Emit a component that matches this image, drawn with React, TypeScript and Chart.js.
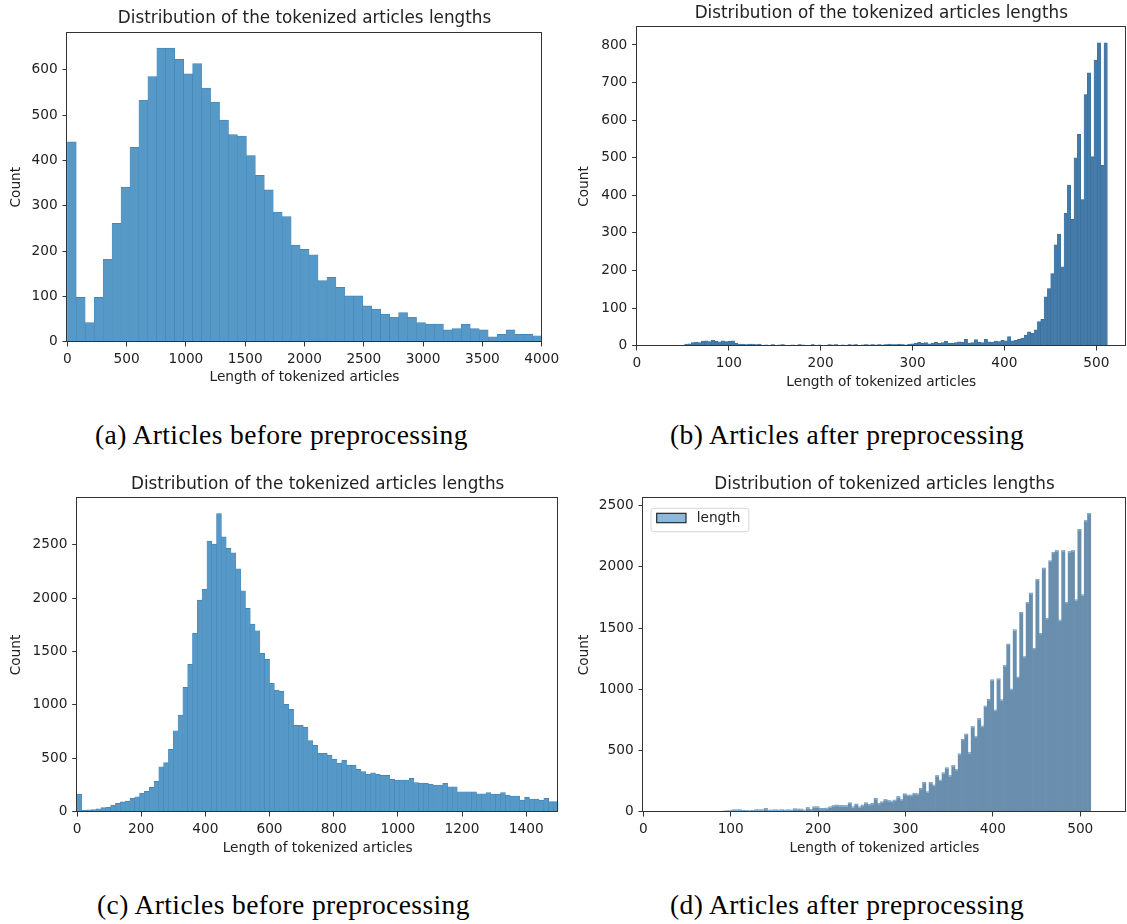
import React, { useEffect, useRef } from "react";
import { Chart, registerables } from "chart.js";

Chart.register(...registerables);

// ---------------- data ----------------
const TITLE_ABC = "Distribution of the tokenized articles lengths";
const TITLE_D = "Distribution of tokenized articles lengths";
const X_LABEL = "Length of tokenized articles";
const Y_LABEL = "Count";
const LEGEND_D = "length";
const CAPTIONS = [
  "(a) Articles before preprocessing",
  "(b) Articles after preprocessing",
  "(c) Articles before preprocessing",
  "(d) Articles after preprocessing",
];

// (a) before preprocessing
const A_BIN_START = 0;
const A_BIN_WIDTH = 75.5;
const A_COUNTS = [
  441, 98, 42, 98, 182, 261, 341, 429, 533, 585, 648, 648, 623, 591, 614, 560, 529, 489, 457, 454,
  411, 367, 335, 286, 276, 213, 204, 192, 135, 142, 120, 101, 101, 79, 72, 61, 54, 64, 54, 42,
  39, 39, 26, 29, 39, 29, 26, 11, 16, 26, 16, 16, 13,
];
const A_X_RANGE = [0, 4000];
const A_Y_MAX = 682;
const A_X_TICKS = [0, 500, 1000, 1500, 2000, 2500, 3000, 3500, 4000];
const A_Y_TICKS = [0, 100, 200, 300, 400, 500, 600];

// (b) after preprocessing
const B_BIN_START = 52;
const B_BIN_WIDTH = 3.622;
const B_COUNTS = [
  4, 5, 8, 9, 8,
  12, 13, 11, 14, 12, 10, 13, 11, 12, 13,
  6, 4, 4, 3, 4, 4, 3, 4,
  0, 2, 1, 3, 0, 2, 3, 0, 1, 2, 0, 3, 2, 0, 1, 3, 0, 2, 1, 0, 3, 2, 3, 0, 2, 1, 3, 2, 3, 0, 2, 3, 2, 3, 2,
  3, 2, 3, 4, 3, 3, 4, 3, 2, 4, 5,
  7, 9, 6, 8, 5, 7, 9, 6, 8, 12, 7, 6, 8, 10, 9, 17, 7, 8, 16, 9, 8, 17, 10, 9, 12, 11, 14, 13,
  24, 13, 14, 17, 20, 28, 37, 33, 42,
  64, 70, 130, 152, 192, 268, 297, 210, 352, 427, 336, 500, 562, 389, 668, 726, 503, 760, 806, 480, 806,
];
const B_X_RANGE = [0, 532];
const B_Y_MAX = 847;
const B_X_TICKS = [0, 100, 200, 300, 400, 500];
const B_Y_TICKS = [0, 100, 200, 300, 400, 500, 600, 700, 800];

// (c) before preprocessing
const C_BIN_START = 0;
const C_BIN_WIDTH = 15;
const C_COUNTS = [
  165, 16, 17, 20, 28, 38, 41, 62, 78, 92, 100, 125, 140, 175, 190, 228, 284, 421, 459, 584,
  758, 905, 1164, 1380, 1673, 1982, 2082, 2534, 2506, 2793, 2575, 2466, 2425, 2275, 2069, 1904, 1757, 1695, 1483, 1426,
  1202, 1139, 1127, 1005, 958, 808, 808, 790, 665, 621, 546, 546, 530, 490, 452, 484, 437, 437, 396, 375,
  350, 365, 350, 340, 340, 303, 296, 296, 296, 312, 272, 268, 265, 258, 250, 250, 265, 234, 234, 187,
  187, 187, 187, 168, 168, 178, 165, 165, 178, 156, 147, 147, 109, 134, 119, 119, 109, 125, 94, 94,
];
const C_X_RANGE = [0, 1500];
const C_Y_MAX = 2935;
const C_X_TICKS = [0, 200, 400, 600, 800, 1000, 1200, 1400];
const C_Y_TICKS = [0, 500, 1000, 1500, 2000, 2500];

// (d) after preprocessing
const D_BIN_START = 90.2;
const D_BIN_WIDTH = 3.7;
const D_COUNTS = [
  5, 8, 8, 16, 15, 16, 11, 10, 8, 9, 16, 15, 16, 27, 14, 13, 15, 14, 16, 13, 15, 14, 24, 22,
  22, 14, 33, 20, 40, 40, 27, 27, 30, 40, 49, 54, 49, 49, 49, 73, 40, 63, 40, 54, 73, 60, 68, 109, 68,
  81, 100, 90, 87, 95, 123, 100, 145, 136, 136, 150, 145, 190, 240, 163, 240, 218, 295, 259, 318,
  359, 295, 377, 345, 472, 591, 635, 482, 695, 613, 760, 700,
  863, 918, 1077, 831, 1085, 913, 1193, 1370, 1002, 1485, 1100, 1628, 1267, 1711, 1785, 1335, 1898, 1457,
  1989, 1580, 2050, 2119, 2133, 1566, 2133, 1711, 2124, 2133, 1730, 2306, 1771, 2378, 2438,
];
const D_X_RANGE = [0, 552];
const D_Y_MAX = 2560;
const D_X_TICKS = [0, 100, 200, 300, 400, 500];
const D_Y_TICKS = [0, 500, 1000, 1500, 2000, 2500];

// ---------------- layout & style ----------------
const FONT = "DejaVu Sans";
const TEXT = "#222";
const AXIS = "#333";
const TITLE_SIZE = 16.8;
const TITLE_LH = 1.2;
const TITLE_GAP = 3.9;
const LABEL_SIZE = 13.7;
const LABEL_LH = 1.2;

type Layout = { l: number; t: number; r: number; b: number; countX: number; xh: number };
type Style = { fill: string; edge: string; edgeWidth: any; inflate: number; rim?: string };
type PanelDef = {
  title: string;
  binStart: number;
  binWidth: number;
  counts: number[];
  xRange: number[];
  yMax: number;
  xTicks: number[];
  yTicks: number[];
  layout: Layout;
  style: Style;
  legend?: string;
  legendFill?: string;
};

const PANELS: PanelDef[] = [
  {
    title: TITLE_ABC, binStart: A_BIN_START, binWidth: A_BIN_WIDTH, counts: A_COUNTS,
    xRange: A_X_RANGE, yMax: A_Y_MAX, xTicks: A_X_TICKS, yTicks: A_Y_TICKS,
    layout: { l: 67.3, t: 32.7, r: 541.7, b: 341.7, countX: 16.3, xh: 43.6 },
    style: { fill: "#5699c7", edge: "#3f81b4", edgeWidth: { top: 0.7, left: 0.5, right: 0.5, bottom: 0 }, inflate: 0.33 },
  },
  {
    title: TITLE_ABC, binStart: B_BIN_START, binWidth: B_BIN_WIDTH, counts: B_COUNTS,
    xRange: B_X_RANGE, yMax: B_Y_MAX, xTicks: B_X_TICKS, yTicks: B_Y_TICKS,
    layout: { l: 636.9, t: 27.3, r: 1125.7, b: 345.7, countX: 584.5, xh: 44.6 },
    style: { fill: "#457ba9", edge: "#356a97", edgeWidth: { top: 0.6, left: 0.4, right: 0.4, bottom: 0 }, inflate: 0.33 },
  },
  {
    title: TITLE_ABC, binStart: C_BIN_START, binWidth: C_BIN_WIDTH, counts: C_COUNTS,
    xRange: C_X_RANGE, yMax: C_Y_MAX, xTicks: C_X_TICKS, yTicks: C_Y_TICKS,
    layout: { l: 77, t: 498.3, r: 558.3, b: 811.7, countX: 16.7, xh: 44.5 },
    style: { fill: "#5699c7", edge: "#3f81b4", edgeWidth: { top: 0.7, left: 0.4, right: 0.4, bottom: 0 }, inflate: 0.33 },
  },
  {
    title: TITLE_D, binStart: D_BIN_START, binWidth: D_BIN_WIDTH, counts: D_COUNTS,
    xRange: D_X_RANGE, yMax: D_Y_MAX, xTicks: D_X_TICKS, yTicks: D_Y_TICKS,
    layout: { l: 643.3, t: 498.3, r: 1125.7, b: 811.7, countX: 584.5, xh: 45 },
    style: { fill: "#6a8ead", edge: "#6a8ead", edgeWidth: 0, inflate: 0.33, rim: "#8ab7da" },
    legend: LEGEND_D,
    legendFill: "#8cb8db",
  },
];

const CAPTION_POS = [
  { left: 95, top: 420.5 },
  { left: 670, top: 420.5 },
  { left: 97, top: 890.5 },
  { left: 670, top: 890.5 },
];

function geometry(L: Layout) {
  const titleBox = TITLE_SIZE * TITLE_LH + TITLE_GAP;
  const yw = L.l + (LABEL_SIZE * LABEL_LH) / 2 - L.countX;
  const left0 = L.l - yw;
  const cl = Math.floor(left0) - 2;
  const padL = left0 - cl;
  const top0 = L.t - titleBox;
  const ct = Math.floor(top0) - 2;
  const padT = top0 - ct;
  const cw = Math.min(Math.ceil(L.r - cl + 30), 1127 - cl);
  const padR = cw - (L.r - cl);
  const ch = Math.ceil(L.b + L.xh + 3 - ct);
  const padB = ch - (L.b + L.xh - ct);
  return { cl, ct, cw, ch, padL, padT, padR, padB, yw };
}

const spinesPlugin = {
  id: "spines",
  afterDatasetsDraw(chart: any) {
    const { ctx, chartArea: a } = chart;
    ctx.save();
    ctx.strokeStyle = AXIS;
    ctx.lineWidth = 1;
    const l = Math.round(a.left) - 0.5;
    const t = Math.round(a.top) - 0.5;
    const r = Math.round(a.right) - 0.5;
    const b = Math.round(a.bottom) - 0.5;
    ctx.strokeRect(l, t, r - l, b - t);
    ctx.restore();
  },
};

// light outline along the top of each bar, taken from the bar elements laid out by Chart.js
function rimPlugin(color: string) {
  return {
    id: "barRims",
    afterDatasetDraw(chart: any, args: any) {
      const meta = args.meta;
      const { ctx, chartArea: a } = chart;
      ctx.save();
      ctx.beginPath();
      ctx.rect(a.left, a.top, a.right - a.left, a.bottom - a.top);
      ctx.clip();
      ctx.fillStyle = color;
      for (const el of meta.data) {
        const w = el.width;
        if (el.base - el.y < 0.5) continue;
        ctx.fillRect(el.x - w / 2 + 0.2, el.y, w - 0.4, 1.2);
      }
      ctx.restore();
    },
  };
}

function legendPlugin(text: string, fill: string) {
  return {
    id: "boxLegend",
    afterDraw(chart: any) {
      const { ctx, chartArea: a } = chart;
      ctx.save();
      ctx.font = `${LABEL_SIZE}px "${FONT}"`;
      const tw = ctx.measureText(text).width;
      const bx = a.left + 7.7;
      const by = a.top + 10;
      const textX = a.left + 53.4;
      const bw = textX - bx + tw + 8.6;
      const bh = 23.4;
      ctx.beginPath();
      const rr = 3;
      ctx.moveTo(bx + rr, by);
      ctx.arcTo(bx + bw, by, bx + bw, by + bh, rr);
      ctx.arcTo(bx + bw, by + bh, bx, by + bh, rr);
      ctx.arcTo(bx, by + bh, bx, by, rr);
      ctx.arcTo(bx, by, bx + bw, by, rr);
      ctx.closePath();
      ctx.fillStyle = "rgba(255,255,255,0.8)";
      ctx.fill();
      ctx.strokeStyle = "#d6d6d6";
      ctx.lineWidth = 1;
      ctx.stroke();
      ctx.fillStyle = fill;
      ctx.fillRect(a.left + 13.4, a.top + 15, 29.3, 9.4);
      ctx.strokeStyle = "#1a1a1a";
      ctx.lineWidth = 1.1;
      ctx.strokeRect(a.left + 13.4, a.top + 15, 29.3, 9.4);
      ctx.fillStyle = TEXT;
      ctx.textBaseline = "middle";
      ctx.textAlign = "left";
      ctx.fillText(text, textX, a.top + 20);
      ctx.restore();
    },
  };
}

function makeChart(canvas: HTMLCanvasElement, p: PanelDef) {
  const g = geometry(p.layout);
  const points = p.counts.map((c, i) => ({ x: p.binStart + p.binWidth * (i + 0.5), y: c }));
  const tickFont = { family: FONT, size: LABEL_SIZE, lineHeight: LABEL_LH };
  const gridOpts = {
    display: true,
    drawOnChartArea: false,
    drawTicks: true,
    tickLength: 4.8,
    tickColor: AXIS,
    tickWidth: 1,
    color: AXIS,
    offset: false,
  };
  const plugins: any[] = [];
  if (p.style.rim) plugins.push(rimPlugin(p.style.rim));
  plugins.push(spinesPlugin);
  if (p.legend) plugins.push(legendPlugin(p.legend, p.legendFill || "#8cb8db"));
  return new Chart(canvas, {
    type: "bar",
    data: {
      datasets: [
        {
          data: points as any,
          backgroundColor: p.style.fill,
          borderColor: p.style.edge,
          borderWidth: p.style.edgeWidth,
          borderSkipped: "start",
          inflateAmount: p.style.inflate,
          barPercentage: 1,
          categoryPercentage: 1,
          clip: 0,
        } as any,
      ],
    },
    options: {
      animation: false,
      responsive: false,
      maintainAspectRatio: false,
      events: [],
      layout: { padding: { top: g.padT, left: g.padL, right: g.padR, bottom: g.padB } },
      plugins: {
        legend: { display: false },
        tooltip: { enabled: false },
        title: {
          display: true,
          text: p.title,
          fullSize: false,
          color: TEXT,
          font: { family: FONT, size: TITLE_SIZE, weight: "normal", lineHeight: TITLE_LH },
          padding: { top: 0, bottom: TITLE_GAP },
        },
      },
      scales: {
        x: {
          type: "linear",
          min: p.xRange[0],
          max: p.xRange[1],
          offset: false,
          grid: gridOpts,
          border: { display: false },
          ticks: {
            color: TEXT,
            font: tickFont,
            padding: 5,
            autoSkip: false,
            maxRotation: 0,
            includeBounds: false,
            callback: (v: any) => String(v),
          },
          afterBuildTicks: (s: any) => {
            s.ticks = p.xTicks.map((v) => ({ value: v }));
          },
          afterFit: (s: any) => {
            s.height = p.layout.xh;
            s.paddingLeft = 0;
            s.paddingRight = 0;
          },
          title: {
            display: true,
            text: X_LABEL,
            color: TEXT,
            font: tickFont,
            padding: { top: 0, bottom: 0 },
          },
        } as any,
        y: {
          type: "linear",
          min: 0,
          max: p.yMax,
          grid: gridOpts,
          border: { display: false },
          ticks: {
            color: TEXT,
            font: tickFont,
            padding: 4.8,
            autoSkip: false,
            includeBounds: false,
            callback: (v: any) => String(v),
          },
          afterBuildTicks: (s: any) => {
            s.ticks = p.yTicks.map((v) => ({ value: v }));
          },
          afterFit: (s: any) => {
            s.width = g.yw;
            s.paddingTop = 0;
            s.paddingBottom = 0;
          },
          title: {
            display: true,
            text: Y_LABEL,
            color: TEXT,
            font: tickFont,
            padding: { top: 0, bottom: 0 },
          },
        } as any,
      },
    },
    plugins,
  });
}

function Panel({ p }: { p: PanelDef }) {
  const ref = useRef<HTMLCanvasElement | null>(null);
  const g = geometry(p.layout);
  useEffect(() => {
    if (!ref.current) return;
    const chart = makeChart(ref.current, p);
    return () => chart.destroy();
  }, [p]);
  return (
    <canvas
      ref={ref}
      width={g.cw}
      height={g.ch}
      style={{ position: "absolute", left: g.cl, top: g.ct, width: g.cw, height: g.ch }}
    />
  );
}

export default function App() {
  return (
    <div
      style={{
        position: "absolute",
        left: 0,
        top: 0,
        width: 1127,
        height: 924,
        overflow: "hidden",
        background: "#ffffff",
      }}
    >
      {PANELS.map((p, i) => (
        <Panel key={i} p={p} />
      ))}
      {CAPTIONS.map((c, i) => (
        <div
          key={"c" + i}
          style={{
            position: "absolute",
            left: CAPTION_POS[i].left,
            top: CAPTION_POS[i].top,
            fontFamily: "'Liberation Serif', serif",
            fontSize: 27.5,
            lineHeight: "27.5px",
            letterSpacing: "0.4px",
            color: "#000",
            whiteSpace: "nowrap",
          }}
        >
          {c}
        </div>
      ))}
    </div>
  );
}
